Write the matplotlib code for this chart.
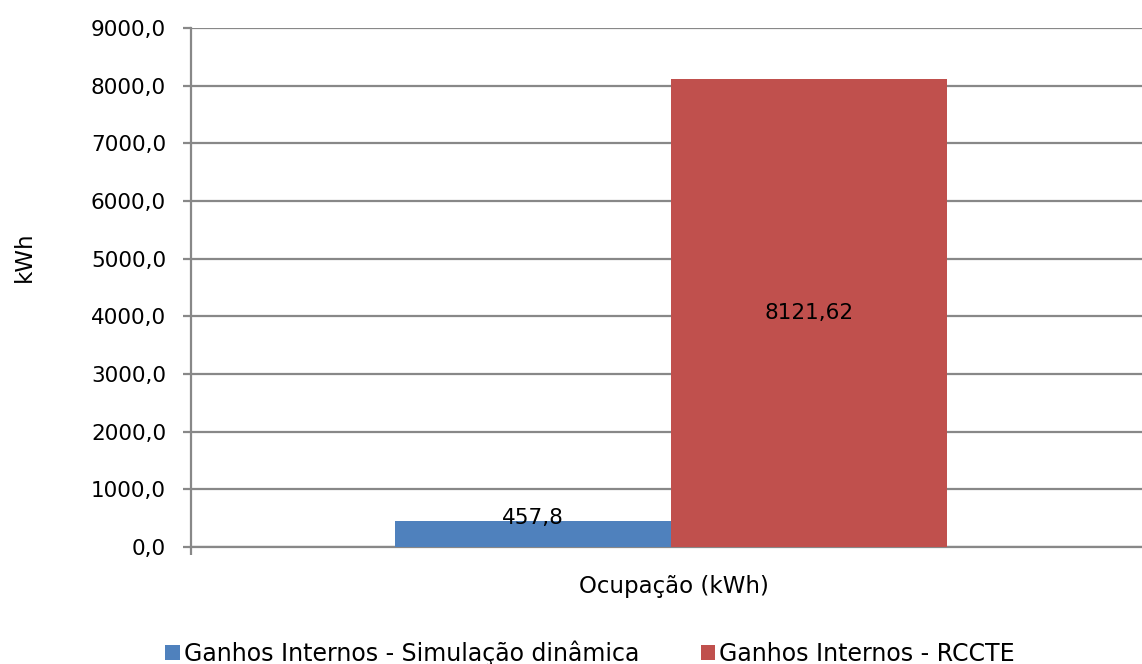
import matplotlib
matplotlib.use("Agg")
import matplotlib.pyplot as plt
from matplotlib.patches import Patch
from matplotlib.ticker import FuncFormatter, MultipleLocator

category = "Ocupação (kWh)"
series_names = ["Ganhos Internos - Simulação dinâmica", "Ganhos Internos - RCCTE"]
series_values = [457.8, 8121.62]
value_labels = ["457,8", "8121,62"]
colors = ["#4F81BD", "#C0504D"]
y_label = "kWh"

plt.rcParams["font.family"] = ["DejaVu Sans"]
grid_col = "#888888"

fig = plt.figure(figsize=(11.42, 6.64), dpi=100)
W, H = 1142, 664
ax = fig.add_axes([191 / W, (664 - 547) / H, 960 / W, (547 - 28) / H])

bw = 276 / 960
offsets = [-bw / 2, bw / 2]
for off, v, c, lab in zip(offsets, series_values, colors, value_labels):
    ax.bar(off, v, width=bw, color=c, zorder=3)
    if v > 1000:
        ax.text(off, v / 2, lab, ha="center", va="center", fontsize=15.5, zorder=4)
    else:
        ax.annotate(lab, (off, v), xytext=(0, 2), textcoords="offset points",
                    ha="center", va="center", fontsize=15.5, zorder=4)

ax.set_xlim(-0.5, 0.5)
ax.set_ylim(0, 9000)
ax.yaxis.set_major_locator(MultipleLocator(1000))
ax.yaxis.set_major_formatter(FuncFormatter(lambda v, p: f"{v:.1f}".replace(".", ",")))
ax.grid(axis="y", color=grid_col, linewidth=1.6, zorder=0)
ax.set_xticks([-0.5])
ax.set_xticklabels([""])
tick_len = 8 * 72 / 100
ax.tick_params(axis="x", length=tick_len, width=1.6, color=grid_col)
ax.tick_params(axis="y", length=tick_len, width=1.6, color=grid_col, labelsize=15.5,
               pad=12.2)

for s in ["top", "right"]:
    ax.spines[s].set_visible(False)
for s in ["left", "bottom"]:
    ax.spines[s].set_color(grid_col)
    ax.spines[s].set_linewidth(1.6)

fig.text(24 / W, 1 - 257 / H, y_label, rotation=90, ha="center", va="center", fontsize=16.5)
fig.text(674 / W, 1 - 586 / H, category, ha="center", va="center", fontsize=16.5)

handles = [Patch(facecolor=c, edgecolor="none") for c in colors]
fig.legend(handles, series_names, loc="center", bbox_to_anchor=(590 / W, 1 - 653 / H),
           ncol=2, frameon=False, fontsize=17, handlelength=0.62, handleheight=0.62,
           handletextpad=0.15, columnspacing=2.62, borderpad=0, borderaxespad=0)

fig.savefig("out.png", dpi=100)
